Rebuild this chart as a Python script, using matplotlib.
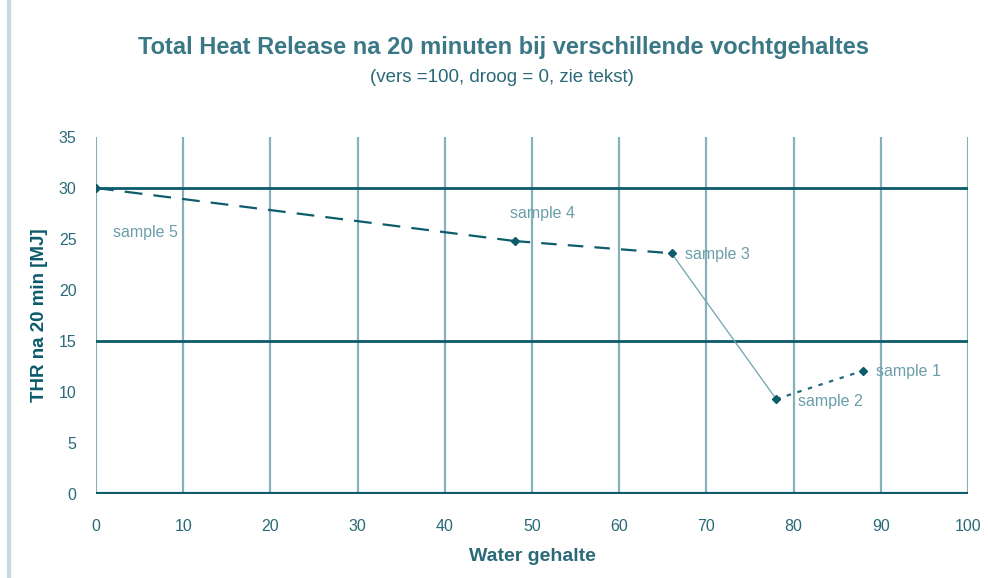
import numpy as np
import matplotlib.pyplot as plt
from matplotlib.lines import Line2D

# water content [%] and total heat release after 20 min [MJ]
samples = ["sample 5", "sample 4", "sample 3", "sample 2", "sample 1"]
water = [0, 48, 66, 78, 88]
thr = [30.0, 24.8, 23.6, 9.3, 12.1]

# line style for each segment between consecutive samples
seg_styles = [(0, (8, 5)), (0, (7, 5)), "-", (0, (2, 3))]
seg_widths = [1.6, 1.6, 0.9, 1.6]
seg_colors = ["#0d5d6c", "#0d5d6c", "#6fa3ae", "#1d6d7c"]

# where each sample label goes
label_x = [2, 47.5, 67.5, 80.5, 89.5]
label_y = [25.6, 27.5, 23.5, 9.1, 12.0]

teal = "#0b5b6b"
light = "#86b1ba"
txt = "#2a6a78"

plt.rcParams['font.family'] = ['Liberation Sans', 'DejaVu Sans']

fig = plt.figure(figsize=(9.88, 5.78), dpi=100)
ax = fig.add_axes([0.0972, 0.1453, 0.8826, 0.6177])

# vertical grid every 10, horizontal only at 15 and 30
for xv in range(0, 101, 10):
    ax.axvline(xv, color=light, lw=1.6, zorder=1)
for yv in [15, 30]:
    ax.axhline(yv, color=teal, lw=2.0, zorder=2)
ax.axhline(0, color=teal, lw=3.0, zorder=2)

for i in range(len(water) - 1):
    ax.plot(water[i:i + 2], thr[i:i + 2], linestyle=seg_styles[i],
            lw=seg_widths[i], color=seg_colors[i], zorder=3)
ax.plot(water, thr, linestyle="none", marker="D", ms=4, color=teal, zorder=4)

for name, lx, ly in zip(samples, label_x, label_y):
    ax.text(lx, ly, name, fontsize=11.5, color="#6a9ea9", va="center", ha="left")

ax.set_xlim(0, 100)
ax.set_ylim(0, 35)
ax.set_xticks(range(0, 101, 10))
ax.set_yticks(range(0, 36, 5))
ax.tick_params(length=0, labelsize=11.5, labelcolor=txt)
ax.tick_params(axis="x", pad=18)
ax.tick_params(axis="y", pad=14)
for s in ax.spines.values():
    s.set_visible(False)

ax.set_xlabel("Water gehalte", fontsize=14, fontweight="bold", color=txt, labelpad=10)
ax.set_ylabel("THR na 20 min [MJ]", fontsize=13.5, fontweight="bold", color=teal, labelpad=8)

fig.text(0.51, 0.918, "Total Heat Release na 20 minuten bij verschillende vochtgehaltes",
         ha="center", va="center", fontsize=17, fontweight="bold", color="#3a7886")
fig.text(0.508, 0.866, "(vers =100, droog = 0, zie tekst)",
         ha="center", va="center", fontsize=13.5, color=txt)

# light border strip on the left
fig.add_artist(Line2D([0.009, 0.009], [0.0, 1.0], transform=fig.transFigure,
                      color="#c5dadf", lw=3))

fig.savefig("out.png", dpi=100)
